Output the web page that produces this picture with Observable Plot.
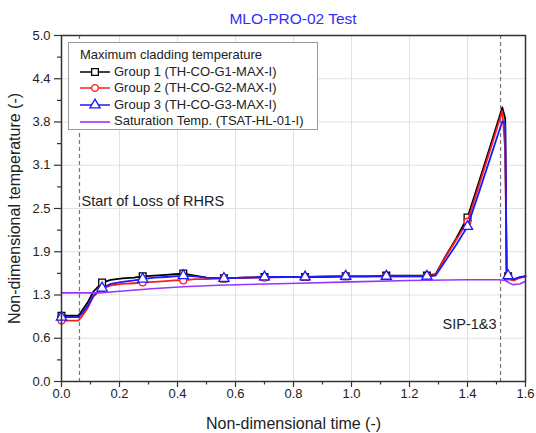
<!DOCTYPE html>
<html><head><meta charset="utf-8">
<script src="https://cdn.jsdelivr.net/npm/d3@7"></script>
<script src="https://cdn.jsdelivr.net/npm/@observablehq/plot@0.6"></script>
<style>
body{margin:0;background:#fff;font-family:"Liberation Sans",Arial,sans-serif;}
#wrap{position:relative;width:536px;height:433px;}
#title{height:28px;box-sizing:border-box;padding-top:5px;padding-left:50px;line-height:28px;font-size:15.5px;color:#2f2ff5;text-align:center;overflow:visible;white-space:nowrap;}
#legend{position:absolute;left:68px;top:42px;width:250px;height:88px;box-sizing:border-box;border:1px solid #999;background:#fff;padding-top:4px;font-size:13px;color:#222;}
#legend .row{height:16.6px;line-height:16.6px;display:flex;align-items:center;white-space:nowrap;}
#legend svg{display:block;margin-right:4px;}
</style></head><body>
<div id="wrap">
<div id="title"></div>
<div id="chart"></div>
<div id="legend"></div>
</div>
<script>
const chartTitle = "MLO-PRO-02 Test";
const xTitle = "Non-dimensional time (-)";
const yTitle = "Non-dimensional temperature (-)";
const legendTitle = "Maximum cladding temperature";
const seriesNames = ["Group 1 (TH-CO-G1-MAX-I)", "Group 2 (TH-CO-G2-MAX-I)", "Group 3 (TH-CO-G3-MAX-I)", "Saturation Temp. (TSAT-HL-01-I)"];
const seriesColors = ["#000000", "#ff1a1a", "#1a1aff", "#9933ff"];
const seriesSymbols = ["square", "circle", "triangle", null];

const time = [0, 0.03, 0.058, 0.07, 0.09, 0.11, 0.14, 0.17, 0.21, 0.25, 0.28, 0.32, 0.36, 0.39, 0.42, 0.46, 0.50, 0.56, 0.63, 0.70, 0.77, 0.84, 0.91, 0.98, 1.05, 1.12, 1.19, 1.26, 1.29, 1.32, 1.36, 1.40, 1.44, 1.48, 1.52, 1.53, 1.535, 1.54, 1.55, 1.56, 1.58, 1.60];
const group1 = [0.95, 0.95, 0.95, 1.02, 1.14, 1.30, 1.43, 1.47, 1.49, 1.50, 1.52, 1.53, 1.54, 1.55, 1.56, 1.53, 1.50, 1.49, 1.50, 1.51, 1.51, 1.51, 1.52, 1.52, 1.52, 1.53, 1.53, 1.53, 1.55, 1.78, 2.06, 2.37, 2.89, 3.42, 3.96, 3.80, 1.56, 1.52, 1.48, 1.47, 1.50, 1.52];
const group2 = [0.88, 0.88, 0.88, 0.94, 1.06, 1.23, 1.34, 1.39, 1.41, 1.42, 1.43, 1.44, 1.45, 1.46, 1.46, 1.48, 1.48, 1.49, 1.50, 1.50, 1.51, 1.51, 1.51, 1.52, 1.52, 1.52, 1.52, 1.52, 1.54, 1.77, 2.04, 2.31, 2.84, 3.37, 3.91, 3.35, 1.55, 1.52, 1.47, 1.46, 1.50, 1.52];
const group3 = [0.93, 0.93, 0.93, 0.98, 1.09, 1.24, 1.35, 1.41, 1.44, 1.46, 1.48, 1.50, 1.51, 1.52, 1.53, 1.52, 1.50, 1.49, 1.50, 1.51, 1.51, 1.51, 1.51, 1.52, 1.52, 1.52, 1.52, 1.52, 1.53, 1.72, 1.97, 2.24, 2.74, 3.25, 3.76, 3.72, 1.56, 1.53, 1.49, 1.48, 1.51, 1.52];
const satTime = [0, 0.05, 0.10, 0.13, 0.19, 0.31, 0.42, 0.54, 0.70, 0.82, 1.00, 1.20, 1.40, 1.51, 1.53, 1.555, 1.58, 1.60];
const satTemp = [1.28, 1.28, 1.28, 1.28, 1.30, 1.34, 1.37, 1.39, 1.41, 1.42, 1.44, 1.46, 1.47, 1.47, 1.46, 1.40, 1.41, 1.45];
const markerTimes = [0, 0.14, 0.28, 0.42, 0.56, 0.70, 0.84, 0.98, 1.12, 1.26, 1.40, 1.54];

const xTicks = [0, 0.2, 0.4, 0.6, 0.8, 1.0, 1.2, 1.4, 1.6];
const xTickLabels = ["0.0", "0.2", "0.4", "0.6", "0.8", "1.0", "1.2", "1.4", "1.6"];
const xMinorTicks = [0.1, 0.3, 0.5, 0.7, 0.9, 1.1, 1.3, 1.5];
const yTicks = [0, 0.625, 1.25, 1.875, 2.5, 3.125, 3.75, 4.375, 5.0];
const yTickLabels = ["0.0", "0.6", "1.3", "1.9", "2.5", "3.1", "3.8", "4.4", "5.0"];
const yMinorTicks = [0.3125, 0.9375, 1.5625, 2.1875, 2.8125, 3.4375, 4.0625, 4.6875];

const eventTimes = [0.062, 1.514];
const annotationTexts = ["Start of Loss of RHRS", "SIP-1&3"];
const annotationX = [0.062, 1.514];
const annotationY = [2.6, 0.83];
const annotationAnchors = ["start", "end"];

document.getElementById("title").textContent = chartTitle;

const groups = [group1, group2, group3];
const isMarker = t => markerTimes.some(m => Math.abs(m - t) < 1e-9);
const seriesMarks = [];
groups.forEach((vals, k) => {
  const rows = time.map((t, i) => ({t, v: vals[i]}));
  seriesMarks.push(Plot.line(rows, {x: "t", y: "v", stroke: seriesColors[k], strokeWidth: 1.8}));
  seriesMarks.push(Plot.dot(rows.filter(d => isMarker(d.t)), {x: "t", y: "v", symbol: seriesSymbols[k], r: k === 1 ? 3.4 : 3.8, stroke: seriesColors[k], fill: "white", strokeWidth: 1.3}));
});
const satRows = satTime.map((t, i) => ({t, v: satTemp[i]}));
seriesMarks.push(Plot.line(satRows, {x: "t", y: "v", stroke: seriesColors[3], strokeWidth: 1.6}));

const annRows = annotationTexts.map((s, i) => ({s, x: annotationX[i], y: annotationY[i], a: annotationAnchors[i]}));

const plot = Plot.plot({
  width: 536, height: 405,
  marginTop: 7, marginRight: 11, marginBottom: 52, marginLeft: 61,
  style: {fontFamily: "'Liberation Sans', Arial, sans-serif", fontSize: "13px", color: "#222", background: "white", overflow: "visible"},
  x: {domain: [0, 1.6]},
  y: {domain: [0, 5]},
  marks: [
    Plot.gridX(xTicks, {stroke: "#e2e2e2", strokeOpacity: 1}),
    Plot.gridY(yTicks, {stroke: "#e2e2e2", strokeOpacity: 1}),
    Plot.ruleX(eventTimes, {stroke: "#777", strokeDasharray: "4,3", strokeWidth: 1.2}),
    Plot.axisX({ticks: xMinorTicks, tickSize: 3.5, tickFormat: () => "", label: null, stroke: "#333", strokeWidth: 1.2}),
    Plot.axisX({ticks: xTicks, tickSize: 6, tickPadding: 1, tickFormat: d => xTickLabels[xTicks.indexOf(d)], label: null, stroke: "#333", strokeWidth: 1.2, fontSize: 13}),
    Plot.axisY({ticks: yMinorTicks, tickSize: 4, tickFormat: () => "", label: null, stroke: "#333", strokeWidth: 1.2}),
    Plot.axisY({ticks: yTicks, tickSize: 7, tickPadding: 4, tickFormat: d => yTickLabels[yTicks.indexOf(d)], label: null, stroke: "#333", strokeWidth: 1.2, fontSize: 13}),
    ...seriesMarks,
    Plot.text(annRows.filter(d => d.a === "start"), {x: "x", y: "y", text: "s", textAnchor: "start", dx: 2, fontSize: 14.5, fill: "#222"}),
    Plot.text(annRows.filter(d => d.a === "end"), {x: "x", y: "y", text: "s", textAnchor: "end", dx: -4, fontSize: 14.5, fill: "#222"}),
    Plot.text([xTitle], {frameAnchor: "bottom", dy: 42, textAnchor: "middle", lineAnchor: "middle", fontSize: 16, fill: "#222"}),
    Plot.text([yTitle], {frameAnchor: "left", dx: -47, rotate: -90, textAnchor: "middle", lineAnchor: "middle", fontSize: 16, fill: "#222"}),
    Plot.frame({stroke: "#333", strokeWidth: 1.5})
  ]
});
document.getElementById("chart").appendChild(plot);

// legend
const legend = d3.select("#legend");
legend.append("div").attr("class", "row").style("padding-left", "11px").text(legendTitle);
seriesNames.forEach((name, k) => {
  const row = legend.append("div").attr("class", "row").style("padding-left", "11px");
  const svg = row.append("svg").attr("width", 30).attr("height", 14);
  svg.append("line").attr("x1", 0).attr("x2", 30).attr("y1", 7).attr("y2", 7)
    .attr("stroke", seriesColors[k]).attr("stroke-width", k === 3 ? 1.6 : 1.5);
  if (seriesSymbols[k]) {
    const sym = {square: d3.symbolSquare, circle: d3.symbolCircle, triangle: d3.symbolTriangle}[seriesSymbols[k]];
    const r = k === 1 ? 3.4 : 3.8;
    svg.append("path").attr("d", d3.symbol(sym, Math.PI * r * r)())
      .attr("transform", "translate(15,7)")
      .attr("fill", "white").attr("stroke", seriesColors[k]).attr("stroke-width", 1.3);
  }
  row.append("span").text(name);
});
</script>
</body></html>
